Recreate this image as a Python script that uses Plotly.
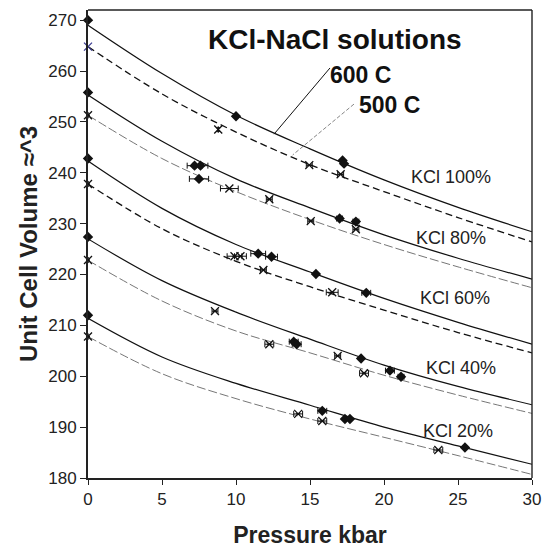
import plotly.graph_objects as go

# ---------------- data ----------------
P_GRID = [0, 5, 10, 15, 20, 25, 30]

# fitted curves, 600 C (solid)
C600_100 = [269.0, 259.5, 251.3, 244.7, 238.6, 233.2, 228.4]
C600_80 = [255.3, 246.2, 238.8, 233.1, 227.8, 223.2, 219.1]
C600_60 = [242.3, 233.0, 225.9, 220.5, 215.3, 210.6, 206.3]
C600_40 = [227.0, 218.8, 212.6, 207.3, 202.2, 198.0, 194.4]
C600_20 = [211.4, 203.8, 198.6, 194.3, 190.0, 186.3, 182.7]

# fitted curves, 500 C (dashed)
C500_100 = [264.8, 255.5, 248.0, 241.6, 236.3, 231.2, 226.4]
C500_80 = [251.3, 242.8, 236.3, 230.8, 225.9, 221.5, 217.4]
C500_60 = [237.8, 229.0, 222.6, 217.6, 213.0, 208.6, 204.6]
C500_40 = [222.8, 214.8, 208.9, 204.6, 200.2, 196.3, 192.7]
C500_20 = [207.8, 200.5, 195.6, 191.6, 188.0, 184.4, 180.7]

# measured points 600 C (diamonds): pressure, volume, pressure error
D600_P = [0, 10.0, 17.2, 17.3,
          0, 7.2, 7.6, 7.5, 17.0, 18.1,
          0, 11.5, 12.4, 15.4, 18.8,
          0, 13.9, 14.1, 18.45, 20.4, 21.15,
          0, 15.83, 17.36, 17.7, 25.47]
D600_V = [270.0, 251.1, 242.4, 241.8,
          255.8, 241.4, 241.4, 238.8, 231.0, 230.4,
          242.8, 224.1, 223.5, 220.1, 216.4,
          227.4, 206.8, 206.3, 203.5, 201.1, 199.9,
          212.0, 193.2, 191.6, 191.6, 186.0]
D600_E = [None, None, None, None,
          None, 0.5, 0.5, 0.65, 0.2, 0.2,
          None, 0.5, 0.4, None, 0.3,
          None, 0.3, 0.3, None, 0.3, 0.2,
          None, 0.3, None, None, None]

# measured points 500 C (crosses)
X500_P = [8.8, 14.95, 17.07,
          0, 9.55, 12.25, 15.05, 18.1,
          0, 9.9, 10.3, 11.85, 16.5,
          0, 8.58, 12.25, 16.87, 18.65,
          0, 14.2, 15.83, 23.67]
X500_V = [248.5, 241.5, 239.7,
          251.3, 236.9, 234.8, 230.5, 228.9,
          237.8, 223.6, 223.6, 220.9, 216.5,
          222.85, 212.8, 206.3, 204.0, 200.6,
          207.8, 192.6, 191.2, 185.5]
X500_E = [None, 0.2, 0.2,
          None, 0.6, 0.2, 0.2, 0.2,
          None, 0.5, 0.4, 0.2, 0.4,
          None, 0.2, 0.3, 0.2, 0.3,
          None, 0.3, 0.3, 0.3]
X500_EY = [0.35] + [None] * 21

X500_BLUE_P = [0]
X500_BLUE_V = [264.8]

LABELS = ["KCl 100%", "KCl 80%", "KCl 60%", "KCl 40%", "KCl 20%"]
LABEL_P = [24.5, 24.5, 24.8, 25.2, 25.0]
LABEL_V = [239.2, 227.1, 215.3, 201.6, 189.25]

FONT = "Liberation Sans, Arial, Helvetica, sans-serif"

fig = go.Figure()

solid = [C600_100, C600_80, C600_60, C600_40, C600_20]
dashed = [C500_100, C500_80, C500_60, C500_40, C500_20]
dash_style = [
    dict(color="#111111", width=1.3, dash="7px,4px"),
    dict(color="#666666", width=0.9, dash="9px,3px"),
    dict(color="#111111", width=1.3, dash="7px,4px"),
    dict(color="#666666", width=0.9, dash="9px,3px"),
    dict(color="#666666", width=0.9, dash="9px,3px"),
]

for ys in solid:
    fig.add_trace(go.Scatter(x=P_GRID, y=ys, mode="lines",
                             line=dict(color="#111111", width=1.2, shape="spline", smoothing=1.0),
                             showlegend=False, hoverinfo="skip"))
for ys, st in zip(dashed, dash_style):
    fig.add_trace(go.Scatter(x=P_GRID, y=ys, mode="lines",
                             line=dict(shape="spline", smoothing=1.0, **st),
                             showlegend=False, hoverinfo="skip"))

fig.add_trace(go.Scatter(
    x=D600_P, y=D600_V, mode="markers", cliponaxis=False,
    marker=dict(symbol="diamond", size=8, color="#111111"),
    error_x=dict(type="data", array=D600_E, color="#111111", thickness=1, width=3),
    showlegend=False))

fig.add_trace(go.Scatter(
    x=X500_P, y=X500_V, mode="markers", cliponaxis=False,
    marker=dict(symbol="x-thin", size=8, color="#111111", line=dict(width=1.3, color="#111111")),
    error_x=dict(type="data", array=X500_E, color="#111111", thickness=1, width=3),
    error_y=dict(type="data", array=X500_EY, color="#111111", thickness=1, width=2),
    showlegend=False))

fig.add_trace(go.Scatter(
    x=X500_BLUE_P, y=X500_BLUE_V, mode="markers", cliponaxis=False,
    marker=dict(symbol="x-thin", size=8, color="#3a3a90", line=dict(width=1.3, color="#3a3a90")),
    showlegend=False))

for t, px, vy in zip(LABELS, LABEL_P, LABEL_V):
    fig.add_annotation(x=px, y=vy, text=t, showarrow=False,
                       font=dict(family=FONT, size=18, color="#222222"))

fig.add_annotation(x=16.7, y=266.3, text="<b>KCl-NaCl solutions</b>", showarrow=False,
                   font=dict(family=FONT, size=28, color="#111111"))
fig.add_annotation(x=18.4, y=259.2, text="<b>600 C</b>", showarrow=False,
                   font=dict(family=FONT, size=23, color="#111111"))
fig.add_annotation(x=20.4, y=253.3, text="<b>500 C</b>", showarrow=False,
                   font=dict(family=FONT, size=23, color="#111111"))

# leader lines
fig.add_shape(type="line", x0=16.35, y0=260.6, x1=12.57, y1=247.6,
              line=dict(color="#111111", width=1))
fig.add_shape(type="line", x0=17.97, y0=253.5, x1=13.83, y1=243.5,
              line=dict(color="#666666", width=0.8, dash="4px,2px"))

# thin top / right border
fig.add_shape(type="line", xref="paper", yref="paper", x0=0, y0=1, x1=1, y1=1,
              line=dict(color="#222222", width=1.4))
fig.add_shape(type="line", xref="paper", yref="paper", x0=1, y0=0, x1=1, y1=1,
              line=dict(color="#222222", width=1.4))

fig.update_layout(
    width=543, height=548,
    margin=dict(l=88, r=11, t=10, b=70),
    paper_bgcolor="white", plot_bgcolor="white",
    font=dict(family=FONT, color="#222222"),
    xaxis=dict(range=[0, 30], tickvals=[0, 5, 10, 15, 20, 25, 30],
               showgrid=False, zeroline=False, automargin=False,
               showline=True, linecolor="#222222", linewidth=2,
               ticks="outside", ticklen=5, tickwidth=1, tickcolor="#222222",
               tickfont=dict(family=FONT, size=17, color="#222222"),
               title=dict(text="<b>Pressure kbar</b>", standoff=22,
                          font=dict(family=FONT, size=23, color="#222222"))),
    yaxis=dict(range=[180, 272], tickvals=[180, 190, 200, 210, 220, 230, 240, 250, 260, 270],
               showgrid=False, zeroline=False, automargin=False,
               showline=True, linecolor="#222222", linewidth=2,
               ticks="outside", ticklen=6, tickwidth=1, tickcolor="#222222",
               tickfont=dict(family=FONT, size=17, color="#222222"),
               title=dict(text="<b>Unit Cell Volume ≈^3</b>", standoff=4,
                          font=dict(family=FONT, size=24, color="#222222"))),
)

fig.write_html("out.html")
